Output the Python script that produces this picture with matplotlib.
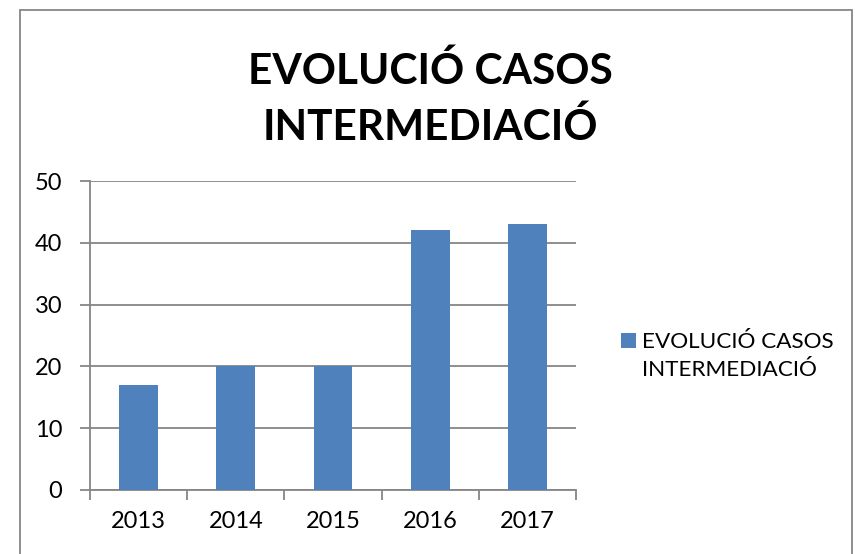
import matplotlib.pyplot as plt
from matplotlib.patches import Rectangle
from matplotlib.legend_handler import HandlerPatch

plt.rcParams['font.family'] = ['Lato', 'DejaVu Sans']

# dades
anys = ['2013', '2014', '2015', '2016', '2017']
casos = [17, 20, 20, 42, 43]
titol = 'EVOLUCIÓ CASOS\nINTERMEDIACIÓ'
serie = 'EVOLUCIÓ CASOS\nINTERMEDIACIÓ'

blau = '#4F81BD'
gris = '#868686'

fig = plt.figure(figsize=(8.55, 5.54), dpi=100)

# marc exterior del gràfic
fig.patches.append(Rectangle((20 / 855, -0.05), 832 / 855, 1 - 10 / 554 + 0.05,
                             transform=fig.transFigure, fill=False,
                             edgecolor=gris, linewidth=1.3))

ax = fig.add_axes([90 / 855, 1 - 490 / 554, 486 / 855, 309 / 554])

x = range(len(anys))
barres = ax.bar(x, casos, width=0.4, color=blau, label=serie, zorder=3)

ax.set_xlim(-0.5, len(anys) - 0.5)
ax.set_ylim(0, 50)
ax.set_yticks(range(0, 51, 10))
ax.set_xticks(list(x))
ax.set_xticklabels(anys)
ax.set_xticks([i - 0.5 for i in range(len(anys) + 1)], minor=True)

ax.grid(axis='y', color=gris, linewidth=1.3, zorder=0)
for s in ['top', 'right']:
    ax.spines[s].set_visible(False)
for s in ['left', 'bottom']:
    ax.spines[s].set_color(gris)
    ax.spines[s].set_linewidth(1.3)

ax.tick_params(axis='y', length=7, width=1.3, color=gris, labelsize=17, pad=13)
ax.tick_params(axis='x', which='major', length=0, labelsize=17, pad=15)
ax.tick_params(axis='x', which='minor', length=7, width=1.3, color=gris)

fig.text(430 / 855, 1 - 99 / 554, titol, ha='center', va='center',
         fontsize=30.5, fontweight='bold', linespacing=1.5)


# quadret de la llegenda alineat amb la primera línia
def quadret(legend, orig_handle, xdescent, ydescent, width, height, fontsize):
    return Rectangle((-xdescent, -ydescent + 11), width, height)


leg = fig.legend(handles=[barres[0]], labels=[serie], loc='center left',
                 bbox_to_anchor=(612 / 855, 1 - 356 / 554), frameon=False,
                 fontsize=16.2, handlelength=0.65, handleheight=0.65,
                 handletextpad=0.3, borderaxespad=0,
                 handler_map={Rectangle: HandlerPatch(patch_func=quadret)})
for t in leg.get_texts():
    t.set_linespacing(1.45)

fig.savefig('out.png', dpi=100)
